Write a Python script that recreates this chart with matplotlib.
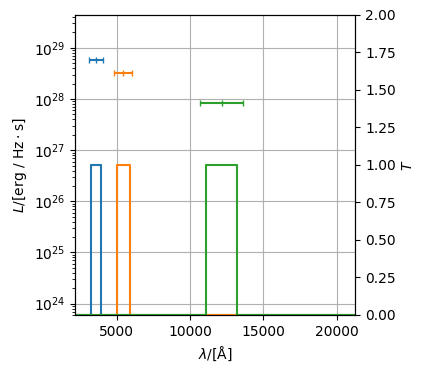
import matplotlib
matplotlib.use("Agg")
import matplotlib.pyplot as plt

# Photometric points (left axis)
band_centers = [3590, 5450, 12170]
band_halfwidths = [457, 614, 1470]
luminosities = [5.9e28, 3.26e28, 8.3e27]

# Transmission curves (right axis)
u_wl = [2000, 3247, 3247, 3909, 3909, 22000]
u_T = [0, 0, 1, 1, 0, 0]
v_wl = [2000, 5000, 5000, 5887, 5887, 22000]
v_T = [0, 0, 1, 1, 0, 0]
j_wl = [2000, 11091, 11091, 13186, 13186, 22000]
j_T = [0, 0, 1, 1, 0, 0]

colors = ["#1f77b4", "#ff7f0e", "#2ca02c"]

fig = plt.figure(figsize=(4.24, 3.73), dpi=100)
ax = fig.add_axes([0.178, 0.1555, 0.66, 0.8045])
ax.set_yscale("log")
for c, x, xe, y in zip(colors, band_centers, band_halfwidths, luminosities):
    ax.errorbar(x, y, xerr=xe, fmt="|", color=c, capsize=2.5, markersize=5)
ax.set_xlim(2176, 21269)
ax.set_ylim(6.0e23, 4.4e29)
ax.grid(True)
ax.set_xlabel(r"$\lambda/[\mathrm{\AA}]$")
ax.set_ylabel(r"$L/[\mathrm{erg\ /\ Hz\cdot s}]$")

ax2 = ax.twinx()
for c, wl, T in zip(colors, [u_wl, v_wl, j_wl], [u_T, v_T, j_T]):
    ax2.plot(wl, T, color=c)
ax2.set_ylim(0, 2)
ax2.set_xlim(2176, 21269)
ax2.set_ylabel(r"$T$")

fig.savefig("out.png", dpi=100)
